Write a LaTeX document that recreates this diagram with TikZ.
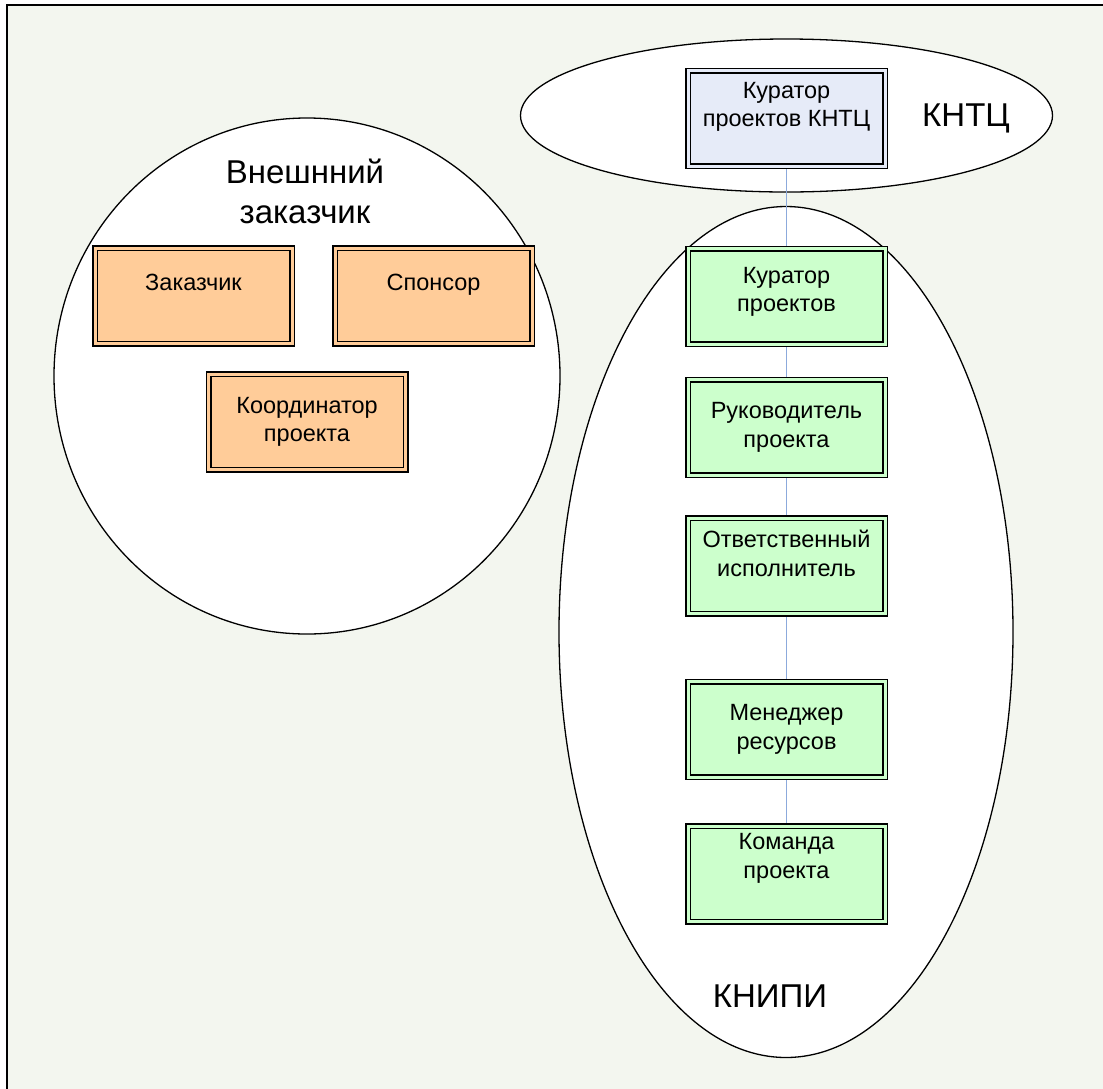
\documentclass[tikz,border=0pt]{standalone}
\usepackage{fontspec}
\setmainfont{Liberation Sans}
\usetikzlibrary{shapes.geometric}
\definecolor{bgc}{RGB}{243,246,239}
\definecolor{orangef}{RGB}{255,204,153}
\definecolor{greenf}{RGB}{204,255,204}
\definecolor{bluef}{RGB}{230,235,248}
\definecolor{linkc}{RGB}{140,170,220}
\tikzset{
  rolebox/.style={draw=black, line width=1.5pt, double distance=3pt, inner sep=0pt, outer sep=3pt,
    minimum width=197pt, minimum height=95.5pt},
  orbox/.style={rolebox, fill=orangef, double=orangef},
  grbox/.style={rolebox, fill=greenf, double=greenf},
  blbox/.style={rolebox, fill=bluef, double=bluef},
  boxtext/.style={font=\fontsize{23.5}{28.5}\selectfont, align=center, inner sep=0pt},
  grouparea/.style={draw=black, line width=1.3pt, fill=white, ellipse, inner sep=0pt, outer sep=0pt},
  grouptext/.style={font=\fontsize{33}{40}\selectfont, align=center, inner sep=0pt},
  link/.style={draw=linkc, line width=1.2pt}
}
\begin{document}
\begin{tikzpicture}[x=1pt, y=-1pt]
\useasboundingbox (0,0) rectangle (1103,1088);
\clip (0,0) rectangle (1103,1088);
\draw[line width=1.5pt, fill=bgc] (7,5) rectangle (1125,1105);

% group areas
\node[grouparea, minimum width=506pt, minimum height=516pt] (extgrp) at (307,376) {};
\node[grouparea, minimum width=532pt, minimum height=153pt] (kntcgrp) at (786.5,115.5) {};
\node[grouparea, minimum width=454pt, minimum height=851pt] (knipigrp) at (786,632) {};

% group titles
\node[grouptext] (extlbl) at (305,191) {Внешнний\\заказчик};
\node[grouptext] (kntclbl) at (966,118) {КНТЦ};
\node[grouptext] (knipilbl) at (770,996) {КНИПИ};

% role boxes
\node[blbox, label={[boxtext, yshift=11.5pt]center:Куратор\\проектов КНТЦ}] (kntc) at (786.5,118.5) {};
\node[grbox, label={[boxtext, yshift=4.5pt]center:Куратор\\проектов}] (kur) at (786.5,296.5) {};
\node[grbox, label={[boxtext, yshift=0pt]center:Руководитель\\проекта}] (ruk) at (786.5,427.5) {};
\node[grbox, label={[boxtext, yshift=12.5pt]center:Ответственный\\исполнитель}] (otv) at (786.5,566) {};
\node[grbox, label={[boxtext, yshift=0pt]center:Менеджер\\ресурсов}] (men) at (786.5,729.5) {};
\node[grbox, label={[boxtext, yshift=15.5pt]center:Команда\\проекта}] (kom) at (786.5,874) {};

\node[orbox, label={[boxtext, yshift=14pt]center:Заказчик}] (zak) at (193.5,296) {};
\node[orbox, label={[boxtext, yshift=11pt]center:Спонсор}] (spon) at (433.5,296) {};
\node[orbox, label={[boxtext, yshift=0pt]center:Координатор\\проекта}] (koord) at (307,422) {};

% connectors
\draw[link] (kntc) -- (kur);
\draw[link] (kur) -- (ruk);
\draw[link] (ruk) -- (otv);
\draw[link] (otv) -- (men);
\draw[link] (men) -- (kom);
\end{tikzpicture}
\end{document}
